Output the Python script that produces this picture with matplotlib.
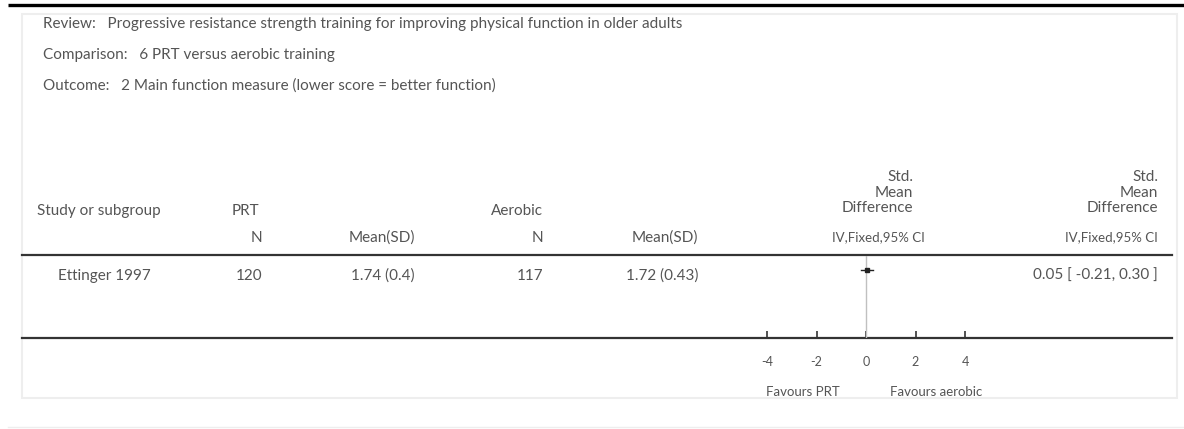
import matplotlib.pyplot as plt
from matplotlib.patches import Rectangle

plt.rcParams['font.family'] = ['Lato', 'DejaVu Sans']

review = 'Progressive resistance strength training for improving physical function in older adults'
comparison = '6 PRT versus aerobic training'
outcome = '2 Main function measure (lower score = better function)'

studies = ['Ettinger 1997']
prt_n = [120]
prt_mean = [1.74]
prt_sd = ['0.4']
aer_n = [117]
aer_mean = [1.72]
aer_sd = ['0.43']
smd = [0.05]
ci_low = [-0.21]
ci_high = [0.30]
xticks = [-4, -2, 0, 2, 4]

txt = '#555555'
fs = 11

fig = plt.figure(figsize=(11.84, 4.29), dpi=100)
ax = fig.add_axes([0, 0, 1, 1])
ax.set_xlim(0, 1184)
ax.set_ylim(429, 0)
ax.axis('off')

# frame and rules
ax.plot([8, 1184], [5, 5], color='black', lw=2.4, solid_capstyle='butt')
ax.add_patch(Rectangle((22, 14), 1155, 384, fill=False, edgecolor='#eeeeee', lw=1.5))
ax.plot([8, 1184], [427, 427], color='#eeeeee', lw=1)
ax.plot([22, 1172], [255, 255], color='#333333', lw=1.6)
ax.plot([22, 1172], [338, 338], color='#333333', lw=1.6)

# title block
ax.text(43, 24, 'Review:   ' + review, fontsize=fs, color=txt, va='center')
ax.text(43, 55, 'Comparison:   ' + comparison, fontsize=fs, color=txt, va='center')
ax.text(43, 86, 'Outcome:   ' + outcome, fontsize=fs, color=txt, va='center')

# column headers
ax.text(37, 211, 'Study or subgroup', fontsize=fs, color=txt, va='center')
ax.text(259, 211, 'PRT', fontsize=fs, color=txt, va='center', ha='right')
ax.text(262, 238, 'N', fontsize=fs, color=txt, va='center', ha='right')
ax.text(415, 238, 'Mean(SD)', fontsize=fs, color=txt, va='center', ha='right')
ax.text(543, 211, 'Aerobic', fontsize=fs, color=txt, va='center', ha='right')
ax.text(543, 238, 'N', fontsize=fs, color=txt, va='center', ha='right')
ax.text(698, 238, 'Mean(SD)', fontsize=fs, color=txt, va='center', ha='right')
for xr in [913, 1158]:
    for yy, s in zip([177, 193, 208], ['Std.', 'Mean', 'Difference']):
        ax.text(xr, yy, s, fontsize=fs, color=txt, va='center', ha='right')
ax.text(925, 237, 'IV,Fixed,95% CI', fontsize=9.5, color=txt, va='center', ha='right')
ax.text(1158, 237, 'IV,Fixed,95% CI', fontsize=9.5, color=txt, va='center', ha='right')

# study rows
row_y = [276]
for i, name in enumerate(studies):
    y = row_y[i]
    ax.text(58, y, name, fontsize=fs, color=txt, va='center')
    ax.text(262, y, str(prt_n[i]), fontsize=fs, color=txt, va='center', ha='right')
    ax.text(415, y, f'{prt_mean[i]:.2f} ({prt_sd[i]})', fontsize=fs, color=txt, va='center', ha='right')
    ax.text(543, y, str(aer_n[i]), fontsize=fs, color=txt, va='center', ha='right')
    ax.text(698, y, f'{aer_mean[i]:.2f} ({aer_sd[i]})', fontsize=fs, color=txt, va='center', ha='right')
    ax.text(1158, y, f'{smd[i]:.2f} [ {ci_low[i]:.2f}, {ci_high[i]:.2f} ]',
            fontsize=fs, color=txt, va='center', ha='right')

# forest panel: x from -4 to 4 mapped onto pixels 767..965
W, H = 1184, 429
fx0, fx1 = 767, 965
fy_top, fy_bot = 256, 338
fax = fig.add_axes([fx0 / W, 1 - fy_bot / H, (fx1 - fx0) / W, (fy_bot - fy_top) / H])
fax.patch.set_alpha(0)
fax.set_xlim(-4, 4)
fax.set_ylim(fy_bot, fy_top)
for sp in fax.spines.values():
    sp.set_visible(False)
fax.set_yticks([])
fax.set_xticks(xticks)
fax.set_xticklabels([str(t) for t in xticks])
fax.tick_params(axis='x', direction='in', length=5, width=1.2, color='#333333',
                labelsize=9, labelcolor=txt, pad=13)
fax.axvline(0, color='#c0c0c0', lw=1)
for i in range(len(studies)):
    yy = row_y[i] - 6
    fax.plot([ci_low[i], ci_high[i]], [yy, yy], color='#222222', lw=1)
    fax.plot([smd[i]], [yy], marker='s', ms=3, color='#222222')

ax.text(803, 392, 'Favours PRT', fontsize=9.5, color=txt, va='center', ha='center')
ax.text(936, 392, 'Favours aerobic', fontsize=9.5, color=txt, va='center', ha='center')

plt.savefig('out.png', dpi=100)
